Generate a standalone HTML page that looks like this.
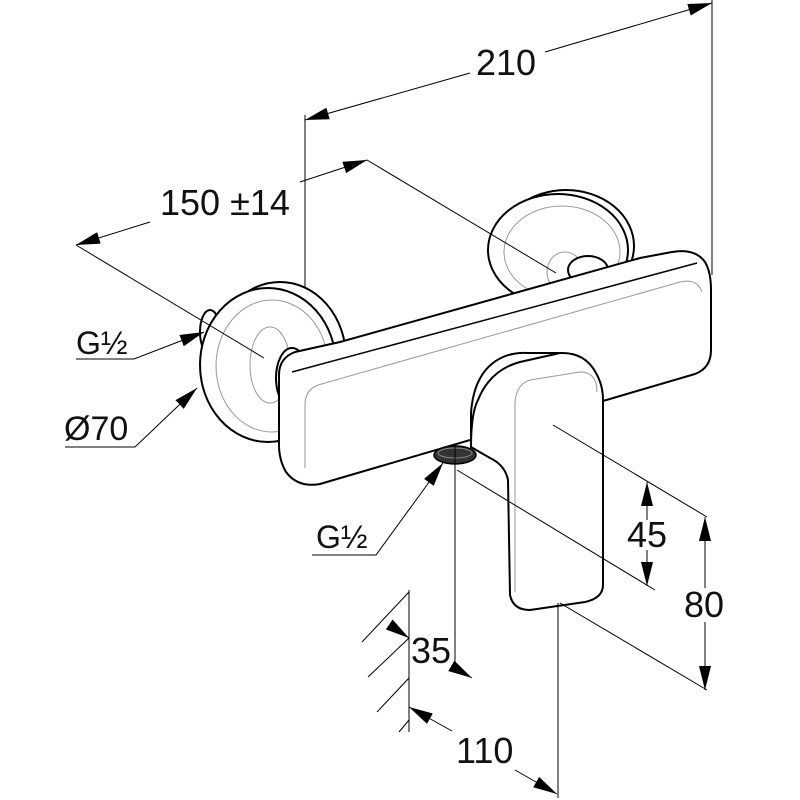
<!DOCTYPE html>
<html><head><meta charset="utf-8"><style>
html,body{margin:0;padding:0;background:#fff}
svg{display:block}
text{font-family:"Liberation Sans",sans-serif;fill:#111}
</style></head><body>
<svg width="800" height="800" viewBox="0 0 800 800" xmlns="http://www.w3.org/2000/svg">
<defs>
<marker id="a" viewBox="0 0 10 10" refX="10" refY="5" markerWidth="24" markerHeight="12" markerUnits="userSpaceOnUse" orient="auto-start-reverse" preserveAspectRatio="none">
<path d="M0,0 L10,5 L0,10 z" fill="#000"/>
</marker>
</defs>
<g fill="none" stroke="#000" stroke-width="1">
<line x1="305" y1="120" x2="470" y2="73" marker-start="url(#a)"/>
<line x1="545" y1="52" x2="712" y2="3" marker-end="url(#a)"/>
<line x1="305" y1="115" x2="305" y2="470"/>
<line x1="712" y1="0" x2="712" y2="275"/>
<line x1="76" y1="245" x2="150" y2="222" marker-start="url(#a)"/>
<line x1="300" y1="182" x2="367" y2="160" marker-end="url(#a)"/>
</g>
<g fill="#fff" stroke="#000" stroke-width="2">
<!-- right rosette -->
<ellipse cx="566" cy="246" rx="68" ry="56"/>
<ellipse cx="558" cy="250" rx="70" ry="56"/>
<ellipse cx="562" cy="252" rx="58" ry="46" stroke="#999" stroke-width="1"/>
<ellipse cx="565" cy="272" rx="18" ry="20" stroke="#999" stroke-width="1"/>
<ellipse cx="588" cy="270" rx="20" ry="14"/>
<!-- left rosette -->
<ellipse cx="210" cy="332" rx="10" ry="22"/>
<ellipse cx="280" cy="358" rx="66" ry="76"/>
<ellipse cx="268" cy="365" rx="68" ry="77"/>
<ellipse cx="272" cy="366" rx="56" ry="66" stroke="#999" stroke-width="1"/>
<ellipse cx="270" cy="365" rx="20" ry="38" stroke="#999" stroke-width="1"/>
<ellipse cx="292" cy="378" rx="16" ry="30"/>
</g>
<line x1="76" y1="245" x2="264" y2="358" stroke="#000" stroke-width="1"/>
<line x1="367" y1="160" x2="556" y2="273" stroke="#000" stroke-width="1"/>
<!-- body -->
<path d="M295,352 L340,342 L640,258 L672,252 Q695,248 705,262 Q711,272 711,290 L711,350 Q711,368 695,374 L320,484 Q298,488 286,472 Q279,460 279,445 L279,375 Q279,358 295,352 Z" fill="#fff" stroke="#000" stroke-width="2"/>
<path d="M318,385 L680,282 Q697,278 702,292" fill="none" stroke="#999" stroke-width="1"/>
<path d="M318,385 Q305,390 305,405 L305,468" fill="none" stroke="#999" stroke-width="1"/>
<path d="M292,372 L697,263" fill="none" stroke="#000" stroke-width="1.5"/>
<!-- spout -->
<ellipse cx="455" cy="455" rx="21" ry="9" fill="#333" stroke="#000" stroke-width="1.5"/>
<ellipse cx="455" cy="453" rx="17" ry="5" fill="none" stroke="#888" stroke-width="1"/>
<!-- lever -->
<path d="M471,447 L471,413 Q474,370 503,357 Q515,352 528,353 L560,353 L540,375 Z" fill="#fff" stroke="#000" stroke-width="2"/>
<path d="M471,447 Q471,413 478,400 Q490,370 520,362 L560,353 Q585,352 596,373 Q603,385 603,400 L603,585 Q603,598 585,602 L530,610 Q513,610 510,595 L508,480 Q505,465 490,458 Z" fill="#fff" stroke="#000" stroke-width="2"/>
<path d="M530,380 L580,372 Q597,372 597,392 M530,380 Q515,385 515,405 L515,592" fill="none" stroke="#999" stroke-width="1"/>
<g fill="none" stroke="#000" stroke-width="1">
<line x1="455" y1="445" x2="455" y2="668"/>
<line x1="455" y1="668" x2="472" y2="678" marker-end="url(#a)"/>
<line x1="457" y1="470" x2="655" y2="590"/>
<line x1="553" y1="425" x2="707" y2="517"/>
<line x1="647" y1="482" x2="647" y2="520" marker-start="url(#a)"/>
<line x1="647" y1="550" x2="647" y2="586" marker-end="url(#a)"/>
<line x1="705" y1="517" x2="705" y2="588" marker-start="url(#a)"/>
<line x1="705" y1="622" x2="705" y2="690" marker-end="url(#a)"/>
<line x1="560" y1="603" x2="707" y2="690"/>
<line x1="558" y1="603" x2="558" y2="798"/>
<line x1="409" y1="590" x2="409" y2="732"/>
<line x1="409" y1="592" x2="362" y2="642"/>
<line x1="409" y1="638" x2="368" y2="677"/>
<line x1="409" y1="678" x2="377" y2="712"/>
<line x1="409" y1="720" x2="399" y2="732"/>
<line x1="390" y1="625" x2="409" y2="638" marker-end="url(#a)"/>
<line x1="409" y1="707" x2="452" y2="731" marker-start="url(#a)"/>
<line x1="515" y1="770" x2="557" y2="794" marker-end="url(#a)"/>
<polyline points="76,359 134,359 204,332" marker-end="url(#a)"/>
<polyline points="65,447 135,447 197,388" marker-end="url(#a)"/>
<polyline points="312,555 376,555 443,463" marker-end="url(#a)"/>
</g>
<g font-size="36">
<text x="476" y="75">210</text>
<text x="160" y="215">150 ±14</text>
<text x="627" y="547">45</text>
<text x="684" y="617">80</text>
<text x="411" y="663">35</text>
<text x="456" y="763">110</text>
<text x="64" y="440" font-size="34">Ø70</text>
<text x="76" y="354" font-size="32">G½</text>
<text x="316" y="548" font-size="32">G½</text>
</g>
</svg>
</body></html>
